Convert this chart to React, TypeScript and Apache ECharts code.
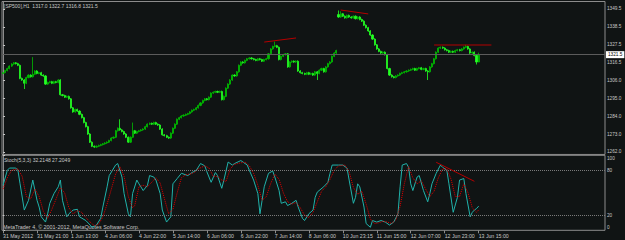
import React, { useEffect, useRef } from "react";
import * as echarts from "echarts";

// ---- data ----
const SYMBOL = "[SP500],H1";
const SLOT_COUNT = 284; // visible bar slots across the window
const firstOpen = 1310.0;
const closes = [
  1310.5, 1311.8, 1313.0, 1314.5, 1315.8, 1316.5, 1316.0, 1315.0, 1307.0, 1306.0,
  1304.0, 1307.5, 1309.0, 1308.0, 1309.5, 1311.5, 1310.0, 1310.5, 1309.0, 1308.5,
  1303.5, 1304.5, 1305.0, 1304.0, 1305.0, 1304.5, 1306.0, 1297.0, 1296.5, 1295.5,
  1296.0, 1294.5, 1289.0, 1286.5, 1288.0, 1287.0, 1285.0, 1283.0, 1280.0, 1277.5,
  1273.0, 1268.0, 1265.5, 1265.0, 1265.5, 1266.0, 1266.5, 1267.0, 1267.5, 1268.0,
  1269.0, 1270.5, 1271.0, 1275.0, 1276.5, 1275.5, 1274.5, 1273.0, 1271.0, 1268.0,
  1271.0, 1275.0, 1273.5, 1274.5, 1275.0, 1275.5, 1276.0, 1277.5, 1279.0, 1279.5,
  1279.0, 1280.0, 1279.0, 1278.5, 1276.0, 1272.5, 1272.0, 1271.0, 1270.5, 1273.5,
  1276.5, 1279.0, 1282.0, 1283.0, 1284.0, 1284.5, 1285.0, 1285.5, 1286.5, 1287.5,
  1288.0, 1289.0, 1290.5, 1292.0, 1293.5, 1294.5, 1294.0, 1295.5, 1298.0, 1298.5,
  1299.0, 1298.5, 1299.0, 1294.0, 1296.0, 1301.0, 1303.5, 1306.0, 1309.0, 1308.5,
  1311.0, 1315.0, 1317.0, 1316.5, 1318.0, 1319.0, 1319.5, 1319.0, 1318.5, 1318.0,
  1319.0, 1318.5, 1317.5, 1318.5, 1319.0, 1322.0, 1325.0, 1326.5, 1327.0, 1326.0,
  1318.5, 1320.5, 1321.5, 1322.0, 1314.0, 1317.0, 1317.5, 1317.0, 1317.5, 1311.5,
  1310.5, 1310.0, 1309.5, 1310.5, 1309.5, 1310.0, 1309.0, 1311.0, 1310.0, 1312.0,
  1313.0, 1311.0, 1314.0, 1316.0, 1317.0, 1320.5, 1322.5, 1324.0, 1344.5, 1346.5,
  1345.0, 1344.0, 1345.5, 1344.5, 1344.0, 1345.0, 1343.5, 1344.5, 1343.0, 1342.0,
  1339.5, 1338.0, 1336.0, 1333.5, 1331.0, 1327.5, 1325.0, 1323.5, 1322.5, 1323.0,
  1321.5, 1313.0, 1309.0, 1308.0, 1307.5, 1308.5, 1309.0, 1310.0, 1310.5, 1311.0,
  1311.5, 1312.0, 1312.5, 1313.0, 1312.0, 1313.0, 1313.5, 1312.5, 1313.0, 1311.5,
  1311.0, 1314.0, 1316.0, 1319.0, 1323.0, 1325.5, 1326.0, 1325.5, 1324.5, 1324.0,
  1323.0, 1323.5, 1323.0, 1324.0, 1324.5, 1324.0, 1325.0, 1326.0, 1326.5, 1325.0,
  1322.5, 1323.0, 1321.0, 1317.0, 1321.5,
];
const gapOpens: [number, number][] = [[158, 1346.0]];
const spikeHighs: [number, number][] = [
  [14, 1320.0], [55, 1282.0], [61, 1280.0], [128, 1329.5], [158, 1348.5],
  [159, 1348.0], [218, 1327.5], [224, 1322.7],
];
const spikeLows: [number, number][] = [
  [10, 1300.5], [148, 1306.0], [200, 1306.0], [223, 1315.5], [224, 1316.8],
];
const WICK = 0.5;

const priceTicks = [1262.0, 1273.0, 1284.0, 1295.0, 1306.0, 1316.5, 1327.5, 1338.5, 1349.5];
const stochTicks = [0, 20, 80, 100];
const stochLevels = [20, 80];

const timeLabels = [
  "31 May 2012", "31 May 21:00", "1 Jun 13:00", "4 Jun 06:00", "4 Jun 22:00",
  "5 Jun 14:00", "6 Jun 06:00", "6 Jun 22:00", "7 Jun 14:00", "8 Jun 06:00",
  "10 Jun 23:15", "11 Jun 15:00", "12 Jun 07:00", "12 Jun 23:00", "13 Jun 15:00",
];
const timeLabelIdx = [0, 16, 32, 48, 64, 80, 96, 112, 128, 144, 160, 176, 192, 208, 224];

const stochMain: [number, number][] = [
  [0, 60], [2, 80], [3, 83], [6, 83], [7, 80], [8, 62], [10, 27], [12, 40], [14, 67], [16, 40],
  [17, 31], [18, 18], [20, 11], [21, 22], [22, 36], [24, 49], [26, 58], [27, 67], [28, 40], [30, 18],
  [31, 22], [33, 27], [35, 28], [36, 18], [39, 13], [41, 7], [42, 4], [44, 7], [46, 16], [47, 31],
  [49, 58], [50, 73], [53, 87], [54, 89], [56, 71], [57, 49], [59, 22], [60, 18], [61, 49], [63, 67],
  [64, 62], [66, 53], [68, 60], [69, 73], [71, 71], [72, 67], [74, 49], [75, 27], [77, 11], [79, 18],
  [80, 62], [82, 69], [84, 76], [87, 73], [89, 77], [91, 80], [93, 89], [95, 86], [96, 78], [98, 64],
  [100, 77], [101, 73], [103, 56], [104, 67], [106, 91], [108, 87], [109, 89], [112, 93], [113, 91], [115, 87],
  [116, 80], [118, 67], [120, 49], [121, 22], [122, 40], [123, 58], [125, 76], [127, 79], [128, 71], [130, 53],
  [131, 36], [133, 38], [134, 33], [136, 36], [138, 40], [139, 31], [141, 16], [142, 13], [144, 22], [146, 27],
  [147, 44], [148, 51], [151, 58], [153, 64], [154, 76], [155, 87], [158, 87], [160, 87], [162, 83], [163, 67],
  [165, 36], [166, 44], [167, 62], [168, 58], [170, 31], [171, 9], [173, 4], [174, 13], [176, 11], [178, 13],
  [180, 11], [182, 7], [184, 11], [186, 22], [187, 58], [188, 87], [190, 89], [191, 84], [192, 62], [193, 53],
  [195, 71], [196, 73], [198, 53], [200, 38], [201, 49], [202, 62], [204, 76], [206, 87], [207, 84], [209, 80],
  [210, 62], [212, 24], [214, 44], [215, 67], [217, 69], [218, 49], [220, 18], [221, 24], [222, 27], [223, 29],
  [224, 32.2148],
];
const stochSignal: [number, number][] = [
  [0, 55], [2, 70], [4, 80], [7, 82], [9, 72], [11, 45], [13, 42], [15, 55], [17, 45], [19, 25],
  [21, 16], [23, 28], [25, 42], [27, 57], [29, 50], [31, 30], [33, 22], [35, 26], [37, 24], [39, 17],
  [41, 11], [43, 6], [45, 8], [47, 18], [49, 35], [51, 55], [53, 75], [55, 85], [57, 72], [59, 45],
  [61, 30], [62, 33], [64, 58], [66, 60], [68, 58], [70, 64], [72, 70], [74, 63], [76, 42], [78, 22],
  [80, 28], [82, 50], [84, 70], [86, 74], [88, 75], [90, 77], [92, 82], [95, 86], [97, 83], [99, 72],
  [101, 72], [103, 67], [105, 65], [107, 82], [109, 88], [112, 90], [114, 91], [116, 86], [118, 76], [120, 60],
  [122, 40], [124, 45], [126, 62], [128, 75], [130, 68], [132, 50], [134, 38], [136, 35], [138, 37], [140, 30],
  [142, 20], [144, 17], [146, 24], [148, 38], [150, 52], [152, 58], [154, 68], [156, 80], [158, 86], [161, 87],
  [163, 78], [165, 57], [167, 48], [169, 52], [171, 35], [173, 15], [175, 9], [177, 10], [179, 12], [181, 11],
  [183, 9], [185, 14], [187, 32], [189, 62], [191, 85], [193, 70], [195, 62], [197, 66], [199, 55], [201, 45],
  [203, 52], [205, 70], [207, 82], [209, 82], [211, 68], [213, 45], [215, 45], [217, 62], [219, 50], [221, 30],
  [223, 24], [224, 27.2049],
];
const stochHeader = "Stoch(5,3,3) 32.2148 27.2049";

const priceTrend1: [number, number][] = [[123, 1329.2], [138, 1331.7]];
const priceTrend2: [number, number][] = [[159, 1348.8], [172, 1346.4]];
const priceTrend3: [number, number][] = [[203, 1327.4], [230, 1327.4]];
const stochTrend: [number, number][] = [[204, 90.7], [222, 65.3]];

// ---- build ----
const UP_COLOR = "#00bb00";
const DOWN_COLOR = "#22ff22";

function buildCandles() {
  const gapMap = new Map(gapOpens);
  const hiMap = new Map(spikeHighs);
  const loMap = new Map(spikeLows);
  return closes.map((c, i) => {
    const o = gapMap.has(i) ? (gapMap.get(i) as number) : i === 0 ? firstOpen : closes[i - 1];
    const h = hiMap.has(i) ? (hiMap.get(i) as number) : Math.max(o, c) + WICK;
    const l = loMap.has(i) ? (loMap.get(i) as number) : Math.min(o, c) - WICK;
    const col = c >= o ? UP_COLOR : DOWN_COLOR;
    return {
      value: [o, c, l, h],
      itemStyle: { color: col, color0: col, borderColor: col, borderColor0: col },
    };
  });
}

export default function App() {
  const ref = useRef<HTMLDivElement>(null);
  useEffect(() => {
    if (!ref.current) return;
    const chart = echarts.init(ref.current, undefined, { renderer: "svg" });
    const candles = buildCandles();
    const last = candles[candles.length - 1].value;
    const bid = last[1];
    const header = `${SYMBOL}  ${last[0].toFixed(1)} ${last[3].toFixed(1)} ${last[2].toFixed(1)} ${last[1].toFixed(1)}`;
    const slots = Array.from({ length: SLOT_COUNT }, (_, i) => String(i));
    const FONT = "Liberation Sans";
    const TXT = "#c8c8c8";
    const BORDER = "#8c8c8c";
    const trendStyle = { color: "#b40000", width: 1 };
    const trend = (data: [number, number][], x: number, y: number) => ({
      type: "line",
      xAxisIndex: x,
      yAxisIndex: y,
      data,
      symbol: "none",
      silent: true,
      lineStyle: trendStyle,
      z: 5,
    });

    chart.setOption({
      animation: false,
      backgroundColor: "#101414",
      textStyle: { fontFamily: FONT },
      grid: [
        { left: 2, right: 20, top: 1.5, height: 152.95, show: true, borderColor: BORDER, borderWidth: 1 },
        { left: 2, right: 20, top: 155.3, height: 75, show: true, borderColor: BORDER, borderWidth: 1 },
      ],
      xAxis: [
        { type: "category", gridIndex: 0, data: slots, show: false, boundaryGap: true },
        {
          type: "value",
          gridIndex: 1,
          min: -0.5,
          max: SLOT_COUNT - 0.5,
          axisLine: { show: false },
          splitLine: { show: false },
          axisTick: { show: true, customValues: timeLabelIdx, length: 3, lineStyle: { color: BORDER } },
          axisLabel: {
            customValues: timeLabelIdx,
            formatter: (v: number) => timeLabels[timeLabelIdx.indexOf(Math.round(v))] ?? "",
            align: "left",
            fontSize: 5.2,
            color: TXT,
            margin: 3,
            fontFamily: FONT,
          },
        },
        { type: "value", gridIndex: 0, min: -0.5, max: SLOT_COUNT - 0.5, show: false },
      ],
      yAxis: [
        {
          type: "value",
          gridIndex: 0,
          position: "right",
          min: 1260.5,
          max: 1354,
          splitLine: { show: false },
          axisLine: { show: true, lineStyle: { color: BORDER } },
          axisTick: { show: true, customValues: priceTicks, length: 2, lineStyle: { color: TXT } },
          axisLabel: {
            customValues: priceTicks,
            formatter: (v: number) => v.toFixed(1),
            fontSize: 4.7,
            color: TXT,
            margin: 2,
            fontFamily: FONT,
          },
        },
        {
          type: "value",
          gridIndex: 1,
          position: "right",
          min: 0,
          max: 100,
          splitLine: { show: false },
          axisLine: { show: true, lineStyle: { color: BORDER } },
          axisTick: { show: true, customValues: stochTicks, length: 2, lineStyle: { color: TXT } },
          axisLabel: {
            customValues: stochTicks,
            formatter: (v: number) => (v === 100 ? "{t|100}" : v === 0 ? "{b|0}" : String(v)),
            fontSize: 4.7,
            color: TXT,
            margin: 2,
            fontFamily: FONT,
            rich: {
              t: { fontSize: 4.7, color: TXT, padding: [7, 0, 0, 0], fontFamily: FONT },
              b: { fontSize: 4.7, color: TXT, padding: [0, 0, 6, 0], fontFamily: FONT },
            },
          },
        },
      ],
      series: [
        {
          type: "candlestick",
          xAxisIndex: 0,
          yAxisIndex: 0,
          data: candles,
          barWidth: 1.6,
          itemStyle: {
            color: UP_COLOR,
            color0: DOWN_COLOR,
            borderColor: UP_COLOR,
            borderColor0: DOWN_COLOR,
            borderWidth: 0.8,
          },
          markLine: {
            symbol: "none",
            silent: true,
            lineStyle: { color: "#5c5c5c", type: "solid", width: 1 },
            label: {
              show: true,
              position: "end",
              formatter: bid.toFixed(1),
              backgroundColor: "#ffffff",
              color: "#000000",
              fontSize: 4.7,
              padding: [1, 2, 1, 2],
              distance: 1,
              fontFamily: FONT,
            },
            data: [{ yAxis: bid }],
          },
          z: 3,
        },
        trend(priceTrend1, 2, 0),
        trend(priceTrend2, 2, 0),
        trend(priceTrend3, 2, 0),
        {
          type: "line",
          xAxisIndex: 1,
          yAxisIndex: 1,
          data: stochMain,
          symbol: "none",
          lineStyle: { color: "#20b2aa", width: 1 },
          markLine: {
            symbol: "none",
            silent: true,
            label: { show: false },
            lineStyle: { color: "#7a7a7a", type: "dotted", width: 1 },
            data: stochLevels.map((v) => ({ yAxis: v })),
          },
          z: 3,
        },
        {
          type: "line",
          xAxisIndex: 1,
          yAxisIndex: 1,
          data: stochSignal,
          symbol: "none",
          lineStyle: { color: "#e00000", width: 1, type: "dotted" },
          z: 4,
        },
        trend(stochTrend, 1, 1),
      ],
      graphic: [
        { type: "text", left: 4, top: 3, style: { text: header, fill: TXT, fontSize: 5, fontFamily: FONT } },
        { type: "text", left: 4, top: 157, style: { text: stochHeader, fill: TXT, fontSize: 5, fontFamily: FONT } },
        {
          type: "text",
          left: 3,
          top: 224,
          style: { text: "MetaTrader 4, © 2001-2012, MetaQuotes Software Corp.", fill: TXT, fontSize: 5.4, fontFamily: FONT },
        },
      ],
    });
    return () => chart.dispose();
  }, []);
  return (
    <div
      ref={ref}
      style={{ position: "fixed", left: 0, top: 0, width: 625, height: 240, background: "#101414" }}
    />
  );
}
